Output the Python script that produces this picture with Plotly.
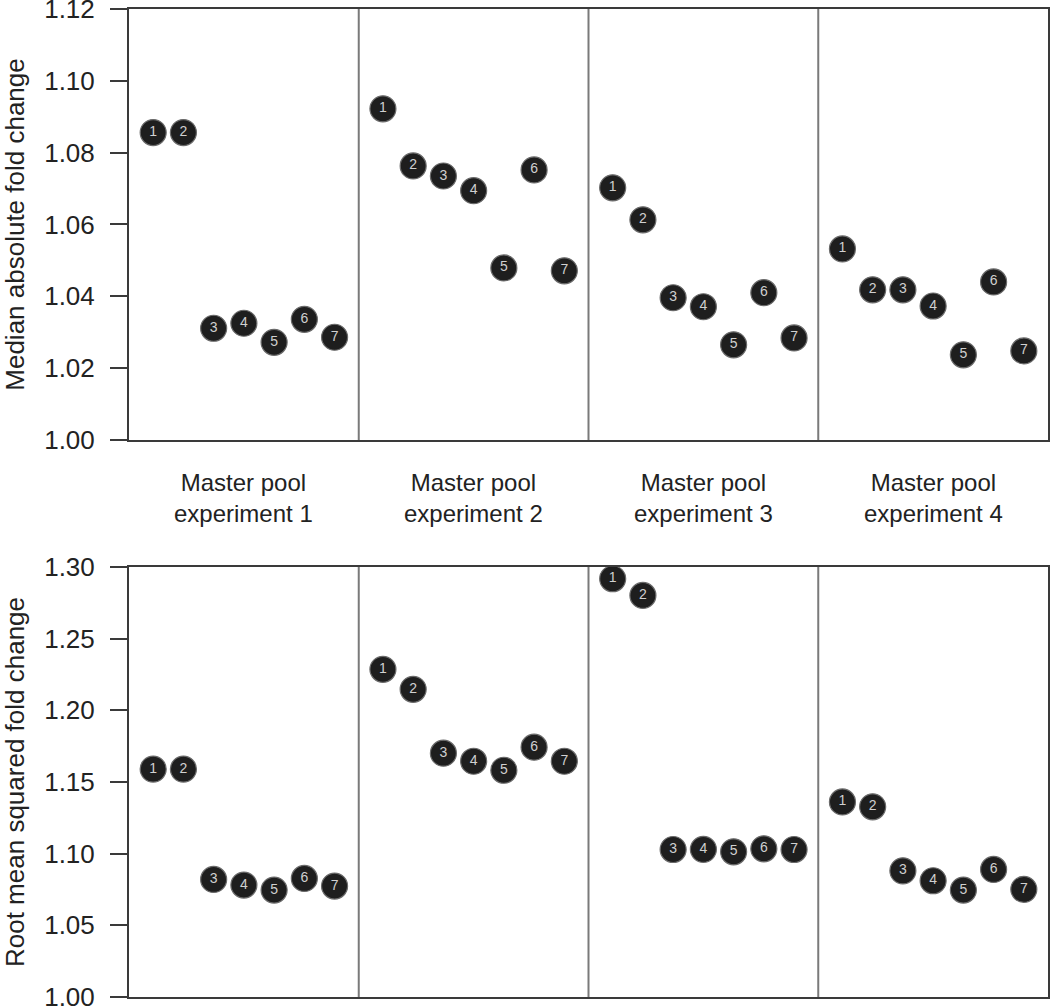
import plotly.graph_objects as go

groups = ["Master pool<br>experiment 1", "Master pool<br>experiment 2",
          "Master pool<br>experiment 3", "Master pool<br>experiment 4"]
samples = [1, 2, 3, 4, 5, 6, 7]

# Median absolute fold change (top panel), per group, samples 1..7
mad_exp1 = [1.0856, 1.0856, 1.0311, 1.0325, 1.0272, 1.0336, 1.0286]
mad_exp2 = [1.0922, 1.0763, 1.0735, 1.0694, 1.0479, 1.0752, 1.0471]
mad_exp3 = [1.0702, 1.0613, 1.0396, 1.0371, 1.0265, 1.0410, 1.0284]
mad_exp4 = [1.0532, 1.0418, 1.0418, 1.0373, 1.0237, 1.0440, 1.0248]

# Root mean squared fold change (bottom panel)
rms_exp1 = [1.1590, 1.1590, 1.0820, 1.0781, 1.0746, 1.0827, 1.0774]
rms_exp2 = [1.2286, 1.2147, 1.1701, 1.1645, 1.1582, 1.1743, 1.1645]
rms_exp3 = [1.2918, 1.2802, 1.1029, 1.1030, 1.1013, 1.1034, 1.1029]
rms_exp4 = [1.1361, 1.1327, 1.0880, 1.0811, 1.0746, 1.0890, 1.0751]

top_ticks = [1.00, 1.02, 1.04, 1.06, 1.08, 1.10, 1.12]
bot_ticks = [1.00, 1.05, 1.10, 1.15, 1.20, 1.25, 1.30]

top_series = [mad_exp1, mad_exp2, mad_exp3, mad_exp4]
bot_series = [rms_exp1, rms_exp2, rms_exp3, rms_exp4]

GW = 7.6      # width of one group in x units
X0 = 0.2      # left edge offset
XMAX = X0 + GW * len(groups)

FONT = "Liberation Sans, Arial, sans-serif"
AXC = "#3a3a3a"

fig = go.Figure()


def add_panel(series, xa, ya):
    xs, ys, ts = [], [], []
    for g, vals in enumerate(series):
        for s, v in zip(samples, vals):
            xs.append(g * GW + s)
            ys.append(v)
            ts.append(str(s))
    fig.add_trace(go.Scatter(
        x=xs, y=ys, text=ts, mode="markers+text",
        textposition="middle center",
        textfont=dict(family=FONT, size=14, color="#d0d0d0"),
        marker=dict(size=26, color="#1e1e1e", line=dict(color="#6a6a6a", width=1.2)),
        xaxis=xa, yaxis=ya, showlegend=False, hoverinfo="skip", cliponaxis=False))


add_panel(top_series, "x", "y")
add_panel(bot_series, "x2", "y2")

top_dom = [0.5638, 1.0]
bot_dom = [0.0, 0.4352]

xcommon = dict(range=[X0, XMAX], showticklabels=False, ticks="", showgrid=False,
               zeroline=False, showline=True, linecolor=AXC, linewidth=2, mirror=True,
               automargin=False)
ycommon = dict(showgrid=False, zeroline=False, showline=True, linecolor=AXC, linewidth=2,
               mirror=True, ticks="outside", ticklen=17, tickwidth=2, tickcolor=AXC,
               tickfont=dict(family=FONT, size=26, color="#222"), ticklabelstandoff=10,
               ticklabeloverflow="allow",
               title_font=dict(family=FONT, size=26, color="#222"), automargin=False)

fig.update_layout(
    width=1050, height=1008,
    margin=dict(l=129, r=2, t=9, b=11),
    paper_bgcolor="white", plot_bgcolor="white",
    xaxis=dict(domain=[0, 1], anchor="y", **xcommon),
    yaxis=dict(domain=top_dom, anchor="x", range=[1.0, 1.12], tickvals=top_ticks,
               ticktext=[f"{t:.2f}" for t in top_ticks],
               title=dict(text="Median absolute fold change", standoff=16), **ycommon),
    xaxis2=dict(domain=[0, 1], anchor="y2", **xcommon),
    yaxis2=dict(domain=bot_dom, anchor="x2", range=[1.0, 1.30], tickvals=bot_ticks,
                ticktext=[f"{t:.2f}" for t in bot_ticks],
                title=dict(text="Root mean squared fold change", standoff=16), **ycommon),
)

# group dividers
for g in range(1, len(groups)):
    for xr, yr in (("x", "y domain"), ("x2", "y2 domain")):
        fig.add_shape(type="line", xref=xr, yref=yr, x0=X0 + g * GW, x1=X0 + g * GW,
                      y0=0, y1=1, line=dict(color="#7a7a7a", width=2))

# group labels
for g, name in enumerate(groups):
    fig.add_annotation(x=X0 + (g + 0.5) * GW, xref="x", y=0.505, yref="paper",
                       text=name, showarrow=False, yanchor="middle",
                       font=dict(family=FONT, size=24, color="#222"))

fig.write_html("out.html", config={"displayModeBar": False},
               post_script="document.body.style.margin='0';document.body.style.overflow='hidden';")
